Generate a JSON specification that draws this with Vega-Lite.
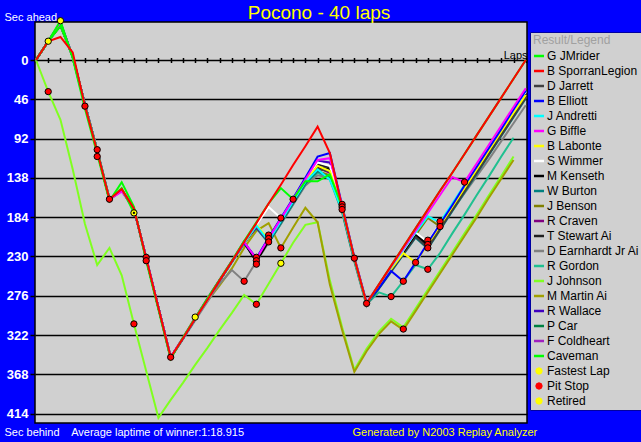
{
"$schema":"https://vega.github.io/schema/vega-lite/v6.json",
"width":492,"height":401,
"autosize":"none",
"padding":{"left":35,"top":22,"right":114,"bottom":19},
"background":"#0000ff",
"config":{"view":{"fill":"#d0d0d0","stroke":"#000000","strokeWidth":1.5},"font":"Liberation Sans"},
"title":{"text":"Pocono - 40 laps","color":"#ffff00","font":"Liberation Sans","fontSize":19,"fontWeight":"normal","anchor":"middle","frame":"group","dx":38,"offset":0,"baseline":"alphabetic","dy":27},
"datasets":{
"laps":[
{"n":"J Johnson","l":0,"v":0},{"n":"J Johnson","l":1,"v":37},{"n":"J Johnson","l":2,"v":70},{"n":"J Johnson","l":3,"v":128},{"n":"J Johnson","l":4,"v":192},{"n":"J Johnson","l":5,"v":240},{"n":"J Johnson","l":6,"v":220},{"n":"J Johnson","l":7,"v":252},{"n":"J Johnson","l":8,"v":309},{"n":"J Johnson","l":9,"v":364},{"n":"J Johnson","l":10,"v":419},{"n":"J Johnson","l":11,"v":398},{"n":"J Johnson","l":12,"v":378},{"n":"J Johnson","l":13,"v":357},{"n":"J Johnson","l":14,"v":337},{"n":"J Johnson","l":15,"v":316},{"n":"J Johnson","l":16,"v":296},{"n":"J Johnson","l":17,"v":275},{"n":"J Johnson","l":18,"v":286},{"n":"J Johnson","l":19,"v":262},{"n":"J Johnson","l":20,"v":238},{"n":"J Johnson","l":21,"v":214},{"n":"J Johnson","l":22,"v":193},{"n":"J Johnson","l":23,"v":190},{"n":"J Johnson","l":24,"v":258},{"n":"J Johnson","l":25,"v":313},{"n":"J Johnson","l":26,"v":363},{"n":"J Johnson","l":27,"v":338},{"n":"J Johnson","l":28,"v":318},{"n":"J Johnson","l":29,"v":303},{"n":"J Johnson","l":30,"v":313},{"n":"J Johnson","l":31,"v":291},{"n":"J Johnson","l":32,"v":269},{"n":"J Johnson","l":33,"v":247},{"n":"J Johnson","l":34,"v":225},{"n":"J Johnson","l":35,"v":203},{"n":"J Johnson","l":36,"v":181},{"n":"J Johnson","l":37,"v":158},{"n":"J Johnson","l":38,"v":136},{"n":"J Johnson","l":39,"v":113},
{"n":"M Martin Ai","l":0,"v":0},{"n":"M Martin Ai","l":1,"v":-22},{"n":"M Martin Ai","l":2,"v":-42},{"n":"M Martin Ai","l":3,"v":-4},{"n":"M Martin Ai","l":4,"v":52},{"n":"M Martin Ai","l":5,"v":106},{"n":"M Martin Ai","l":6,"v":163},{"n":"M Martin Ai","l":7,"v":152},{"n":"M Martin Ai","l":8,"v":174},{"n":"M Martin Ai","l":9,"v":232},{"n":"M Martin Ai","l":10,"v":290},{"n":"M Martin Ai","l":11,"v":348},{"n":"M Martin Ai","l":12,"v":326},{"n":"M Martin Ai","l":13,"v":301},{"n":"M Martin Ai","l":14,"v":282},{"n":"M Martin Ai","l":15,"v":264},{"n":"M Martin Ai","l":16,"v":244},{"n":"M Martin Ai","l":17,"v":220},{"n":"M Martin Ai","l":18,"v":200},{"n":"M Martin Ai","l":19,"v":191},{"n":"M Martin Ai","l":20,"v":220},{"n":"M Martin Ai","l":21,"v":196},{"n":"M Martin Ai","l":22,"v":173},{"n":"M Martin Ai","l":23,"v":190},{"n":"M Martin Ai","l":24,"v":263},{"n":"M Martin Ai","l":25,"v":316},{"n":"M Martin Ai","l":26,"v":365},{"n":"M Martin Ai","l":27,"v":341},{"n":"M Martin Ai","l":28,"v":321},{"n":"M Martin Ai","l":29,"v":306},{"n":"M Martin Ai","l":30,"v":316},{"n":"M Martin Ai","l":31,"v":294},{"n":"M Martin Ai","l":32,"v":272},{"n":"M Martin Ai","l":33,"v":250},{"n":"M Martin Ai","l":34,"v":228},{"n":"M Martin Ai","l":35,"v":206},{"n":"M Martin Ai","l":36,"v":184},{"n":"M Martin Ai","l":37,"v":161},{"n":"M Martin Ai","l":38,"v":139},{"n":"M Martin Ai","l":39,"v":117},
{"n":"R Gordon","l":0,"v":0},{"n":"R Gordon","l":1,"v":-22},{"n":"R Gordon","l":2,"v":-41},{"n":"R Gordon","l":3,"v":-4},{"n":"R Gordon","l":4,"v":52},{"n":"R Gordon","l":5,"v":106},{"n":"R Gordon","l":6,"v":163},{"n":"R Gordon","l":7,"v":152},{"n":"R Gordon","l":8,"v":174},{"n":"R Gordon","l":9,"v":232},{"n":"R Gordon","l":10,"v":290},{"n":"R Gordon","l":11,"v":348},{"n":"R Gordon","l":12,"v":326},{"n":"R Gordon","l":13,"v":303},{"n":"R Gordon","l":14,"v":281},{"n":"R Gordon","l":15,"v":259},{"n":"R Gordon","l":16,"v":237},{"n":"R Gordon","l":17,"v":215},{"n":"R Gordon","l":18,"v":196},{"n":"R Gordon","l":19,"v":214},{"n":"R Gordon","l":20,"v":192},{"n":"R Gordon","l":21,"v":169},{"n":"R Gordon","l":22,"v":146},{"n":"R Gordon","l":23,"v":132},{"n":"R Gordon","l":24,"v":140},{"n":"R Gordon","l":25,"v":178},{"n":"R Gordon","l":26,"v":236},{"n":"R Gordon","l":27,"v":286},{"n":"R Gordon","l":28,"v":272},{"n":"R Gordon","l":29,"v":277},{"n":"R Gordon","l":30,"v":259},{"n":"R Gordon","l":31,"v":240},{"n":"R Gordon","l":32,"v":245},{"n":"R Gordon","l":33,"v":226},{"n":"R Gordon","l":34,"v":203},{"n":"R Gordon","l":35,"v":181},{"n":"R Gordon","l":36,"v":158},{"n":"R Gordon","l":37,"v":136},{"n":"R Gordon","l":38,"v":113},{"n":"R Gordon","l":39,"v":91},
{"n":"D Earnhardt Jr Ai","l":0,"v":0},{"n":"D Earnhardt Jr Ai","l":1,"v":-22},{"n":"D Earnhardt Jr Ai","l":2,"v":-40},{"n":"D Earnhardt Jr Ai","l":3,"v":-3},{"n":"D Earnhardt Jr Ai","l":4,"v":53},{"n":"D Earnhardt Jr Ai","l":5,"v":107},{"n":"D Earnhardt Jr Ai","l":6,"v":164},{"n":"D Earnhardt Jr Ai","l":7,"v":153},{"n":"D Earnhardt Jr Ai","l":8,"v":175},{"n":"D Earnhardt Jr Ai","l":9,"v":233},{"n":"D Earnhardt Jr Ai","l":10,"v":291},{"n":"D Earnhardt Jr Ai","l":11,"v":349},{"n":"D Earnhardt Jr Ai","l":12,"v":327},{"n":"D Earnhardt Jr Ai","l":13,"v":305},{"n":"D Earnhardt Jr Ai","l":14,"v":283},{"n":"D Earnhardt Jr Ai","l":15,"v":262},{"n":"D Earnhardt Jr Ai","l":16,"v":246},{"n":"D Earnhardt Jr Ai","l":17,"v":259},{"n":"D Earnhardt Jr Ai","l":18,"v":236},{"n":"D Earnhardt Jr Ai","l":19,"v":214},{"n":"D Earnhardt Jr Ai","l":20,"v":192},{"n":"D Earnhardt Jr Ai","l":21,"v":169},{"n":"D Earnhardt Jr Ai","l":22,"v":147},{"n":"D Earnhardt Jr Ai","l":23,"v":135},{"n":"D Earnhardt Jr Ai","l":24,"v":138},{"n":"D Earnhardt Jr Ai","l":25,"v":178},{"n":"D Earnhardt Jr Ai","l":26,"v":236},{"n":"D Earnhardt Jr Ai","l":27,"v":288},{"n":"D Earnhardt Jr Ai","l":28,"v":266},{"n":"D Earnhardt Jr Ai","l":29,"v":246},{"n":"D Earnhardt Jr Ai","l":30,"v":226},{"n":"D Earnhardt Jr Ai","l":31,"v":206},{"n":"D Earnhardt Jr Ai","l":32,"v":218},{"n":"D Earnhardt Jr Ai","l":33,"v":197},{"n":"D Earnhardt Jr Ai","l":34,"v":176},{"n":"D Earnhardt Jr Ai","l":35,"v":156},{"n":"D Earnhardt Jr Ai","l":36,"v":136},{"n":"D Earnhardt Jr Ai","l":37,"v":116},{"n":"D Earnhardt Jr Ai","l":38,"v":95},{"n":"D Earnhardt Jr Ai","l":39,"v":74},{"n":"D Earnhardt Jr Ai","l":40,"v":53},
{"n":"F Coldheart","l":0,"v":0},{"n":"F Coldheart","l":1,"v":-22},{"n":"F Coldheart","l":2,"v":-42},{"n":"F Coldheart","l":3,"v":-4},{"n":"F Coldheart","l":4,"v":52},{"n":"F Coldheart","l":5,"v":106},{"n":"F Coldheart","l":6,"v":163},{"n":"F Coldheart","l":7,"v":152},{"n":"F Coldheart","l":8,"v":174},{"n":"F Coldheart","l":9,"v":232},{"n":"F Coldheart","l":10,"v":290},{"n":"F Coldheart","l":11,"v":348},
{"n":"P Car","l":0,"v":0},{"n":"P Car","l":1,"v":-22},{"n":"P Car","l":2,"v":-42},{"n":"P Car","l":3,"v":-4},{"n":"P Car","l":4,"v":52},{"n":"P Car","l":5,"v":106},{"n":"P Car","l":6,"v":163},{"n":"P Car","l":7,"v":152},{"n":"P Car","l":8,"v":174},{"n":"P Car","l":9,"v":232},{"n":"P Car","l":10,"v":290},{"n":"P Car","l":11,"v":348},{"n":"P Car","l":12,"v":326},{"n":"P Car","l":13,"v":303},{"n":"P Car","l":14,"v":280},{"n":"P Car","l":15,"v":258},{"n":"P Car","l":16,"v":236},{"n":"P Car","l":17,"v":214},{"n":"P Car","l":18,"v":234},
{"n":"R Wallace","l":0,"v":0},{"n":"R Wallace","l":1,"v":-22},{"n":"R Wallace","l":2,"v":-43},{"n":"R Wallace","l":3,"v":-4},{"n":"R Wallace","l":4,"v":52},{"n":"R Wallace","l":5,"v":106},{"n":"R Wallace","l":6,"v":163},{"n":"R Wallace","l":7,"v":152},{"n":"R Wallace","l":8,"v":174},{"n":"R Wallace","l":9,"v":232},{"n":"R Wallace","l":10,"v":290},{"n":"R Wallace","l":11,"v":348},{"n":"R Wallace","l":12,"v":326},{"n":"R Wallace","l":13,"v":303},{"n":"R Wallace","l":14,"v":280},{"n":"R Wallace","l":15,"v":258},{"n":"R Wallace","l":16,"v":236},{"n":"R Wallace","l":17,"v":214},{"n":"R Wallace","l":18,"v":233},{"n":"R Wallace","l":19,"v":209},{"n":"R Wallace","l":20,"v":186},{"n":"R Wallace","l":21,"v":163},{"n":"R Wallace","l":22,"v":140},{"n":"R Wallace","l":23,"v":118},{"n":"R Wallace","l":24,"v":120},{"n":"R Wallace","l":25,"v":172},{"n":"R Wallace","l":26,"v":232},
{"n":"J Benson","l":0,"v":0},{"n":"J Benson","l":1,"v":-22},{"n":"J Benson","l":2,"v":-41},{"n":"J Benson","l":3,"v":-4},{"n":"J Benson","l":4,"v":52},{"n":"J Benson","l":5,"v":106},{"n":"J Benson","l":6,"v":163},{"n":"J Benson","l":7,"v":152},{"n":"J Benson","l":8,"v":174},{"n":"J Benson","l":9,"v":232},{"n":"J Benson","l":10,"v":290},{"n":"J Benson","l":11,"v":348},{"n":"J Benson","l":12,"v":326},{"n":"J Benson","l":13,"v":303},{"n":"J Benson","l":14,"v":280},{"n":"J Benson","l":15,"v":258},{"n":"J Benson","l":16,"v":236},{"n":"J Benson","l":17,"v":214},{"n":"J Benson","l":18,"v":195},{"n":"J Benson","l":19,"v":213},{"n":"J Benson","l":20,"v":190},{"n":"J Benson","l":21,"v":167},{"n":"J Benson","l":22,"v":144},{"n":"J Benson","l":23,"v":130},{"n":"J Benson","l":24,"v":135},{"n":"J Benson","l":25,"v":177},{"n":"J Benson","l":26,"v":234},{"n":"J Benson","l":27,"v":286},{"n":"J Benson","l":28,"v":265},{"n":"J Benson","l":29,"v":245},{"n":"J Benson","l":30,"v":225},{"n":"J Benson","l":31,"v":205},{"n":"J Benson","l":32,"v":185},{"n":"J Benson","l":33,"v":195},{"n":"J Benson","l":34,"v":173},{"n":"J Benson","l":35,"v":151},{"n":"J Benson","l":36,"v":129},{"n":"J Benson","l":37,"v":107},{"n":"J Benson","l":38,"v":85},{"n":"J Benson","l":39,"v":63},{"n":"J Benson","l":40,"v":41},
{"n":"W Burton","l":0,"v":0},{"n":"W Burton","l":1,"v":-22},{"n":"W Burton","l":2,"v":-42},{"n":"W Burton","l":3,"v":-4},{"n":"W Burton","l":4,"v":52},{"n":"W Burton","l":5,"v":106},{"n":"W Burton","l":6,"v":163},{"n":"W Burton","l":7,"v":152},{"n":"W Burton","l":8,"v":174},{"n":"W Burton","l":9,"v":232},{"n":"W Burton","l":10,"v":290},{"n":"W Burton","l":11,"v":348},{"n":"W Burton","l":12,"v":326},{"n":"W Burton","l":13,"v":303},{"n":"W Burton","l":14,"v":280},{"n":"W Burton","l":15,"v":258},{"n":"W Burton","l":16,"v":236},{"n":"W Burton","l":17,"v":212},{"n":"W Burton","l":18,"v":197},{"n":"W Burton","l":19,"v":214},{"n":"W Burton","l":20,"v":191},{"n":"W Burton","l":21,"v":168},{"n":"W Burton","l":22,"v":145},{"n":"W Burton","l":23,"v":130},{"n":"W Burton","l":24,"v":138},{"n":"W Burton","l":25,"v":176},{"n":"W Burton","l":26,"v":234},{"n":"W Burton","l":27,"v":286},{"n":"W Burton","l":28,"v":268},{"n":"W Burton","l":29,"v":248},{"n":"W Burton","l":30,"v":228},{"n":"W Burton","l":31,"v":208},{"n":"W Burton","l":32,"v":221},{"n":"W Burton","l":33,"v":199},{"n":"W Burton","l":34,"v":177},{"n":"W Burton","l":35,"v":155},{"n":"W Burton","l":36,"v":133},{"n":"W Burton","l":37,"v":111},{"n":"W Burton","l":38,"v":89},{"n":"W Burton","l":39,"v":67},{"n":"W Burton","l":40,"v":45},
{"n":"R Craven","l":0,"v":0},{"n":"R Craven","l":1,"v":-22},{"n":"R Craven","l":2,"v":-43},{"n":"R Craven","l":3,"v":-4},{"n":"R Craven","l":4,"v":52},{"n":"R Craven","l":5,"v":106},{"n":"R Craven","l":6,"v":163},{"n":"R Craven","l":7,"v":152},{"n":"R Craven","l":8,"v":174},{"n":"R Craven","l":9,"v":232},{"n":"R Craven","l":10,"v":290},{"n":"R Craven","l":11,"v":348},{"n":"R Craven","l":12,"v":326},{"n":"R Craven","l":13,"v":303},{"n":"R Craven","l":14,"v":280},{"n":"R Craven","l":15,"v":258},{"n":"R Craven","l":16,"v":236},{"n":"R Craven","l":17,"v":214},{"n":"R Craven","l":18,"v":196},{"n":"R Craven","l":19,"v":212},{"n":"R Craven","l":20,"v":189},{"n":"R Craven","l":21,"v":166},{"n":"R Craven","l":22,"v":143},{"n":"R Craven","l":23,"v":126},{"n":"R Craven","l":24,"v":132},{"n":"R Craven","l":25,"v":175},{"n":"R Craven","l":26,"v":233},{"n":"R Craven","l":27,"v":285},{"n":"R Craven","l":28,"v":266},{"n":"R Craven","l":29,"v":246},{"n":"R Craven","l":30,"v":226},{"n":"R Craven","l":31,"v":206},{"n":"R Craven","l":32,"v":219},{"n":"R Craven","l":33,"v":197},{"n":"R Craven","l":34,"v":175},{"n":"R Craven","l":35,"v":153},{"n":"R Craven","l":36,"v":131},{"n":"R Craven","l":37,"v":109},{"n":"R Craven","l":38,"v":87},{"n":"R Craven","l":39,"v":65},{"n":"R Craven","l":40,"v":43},
{"n":"T Stewart Ai","l":0,"v":0},{"n":"T Stewart Ai","l":1,"v":-22},{"n":"T Stewart Ai","l":2,"v":-42},{"n":"T Stewart Ai","l":3,"v":-4},{"n":"T Stewart Ai","l":4,"v":52},{"n":"T Stewart Ai","l":5,"v":106},{"n":"T Stewart Ai","l":6,"v":163},{"n":"T Stewart Ai","l":7,"v":152},{"n":"T Stewart Ai","l":8,"v":174},{"n":"T Stewart Ai","l":9,"v":232},{"n":"T Stewart Ai","l":10,"v":290},{"n":"T Stewart Ai","l":11,"v":348},{"n":"T Stewart Ai","l":12,"v":326},{"n":"T Stewart Ai","l":13,"v":303},{"n":"T Stewart Ai","l":14,"v":280},{"n":"T Stewart Ai","l":15,"v":258},{"n":"T Stewart Ai","l":16,"v":236},{"n":"T Stewart Ai","l":17,"v":214},{"n":"T Stewart Ai","l":18,"v":234},{"n":"T Stewart Ai","l":19,"v":210},{"n":"T Stewart Ai","l":20,"v":187},{"n":"T Stewart Ai","l":21,"v":164},{"n":"T Stewart Ai","l":22,"v":141},{"n":"T Stewart Ai","l":23,"v":122},{"n":"T Stewart Ai","l":24,"v":126},{"n":"T Stewart Ai","l":25,"v":174},{"n":"T Stewart Ai","l":26,"v":232},{"n":"T Stewart Ai","l":27,"v":285},{"n":"T Stewart Ai","l":28,"v":266},{"n":"T Stewart Ai","l":29,"v":246},{"n":"T Stewart Ai","l":30,"v":226},{"n":"T Stewart Ai","l":31,"v":205},{"n":"T Stewart Ai","l":32,"v":218},{"n":"T Stewart Ai","l":33,"v":196},{"n":"T Stewart Ai","l":34,"v":174},{"n":"T Stewart Ai","l":35,"v":152},{"n":"T Stewart Ai","l":36,"v":130},{"n":"T Stewart Ai","l":37,"v":108},{"n":"T Stewart Ai","l":38,"v":86},{"n":"T Stewart Ai","l":39,"v":64},{"n":"T Stewart Ai","l":40,"v":42},
{"n":"D Jarrett","l":0,"v":0},{"n":"D Jarrett","l":1,"v":-22},{"n":"D Jarrett","l":2,"v":-40},{"n":"D Jarrett","l":3,"v":-4},{"n":"D Jarrett","l":4,"v":52},{"n":"D Jarrett","l":5,"v":106},{"n":"D Jarrett","l":6,"v":163},{"n":"D Jarrett","l":7,"v":152},{"n":"D Jarrett","l":8,"v":174},{"n":"D Jarrett","l":9,"v":232},{"n":"D Jarrett","l":10,"v":290},{"n":"D Jarrett","l":11,"v":348},{"n":"D Jarrett","l":12,"v":326},{"n":"D Jarrett","l":13,"v":303},{"n":"D Jarrett","l":14,"v":280},{"n":"D Jarrett","l":15,"v":258},{"n":"D Jarrett","l":16,"v":236},{"n":"D Jarrett","l":17,"v":214},{"n":"D Jarrett","l":18,"v":235},{"n":"D Jarrett","l":19,"v":211},{"n":"D Jarrett","l":20,"v":188},{"n":"D Jarrett","l":21,"v":165},{"n":"D Jarrett","l":22,"v":142},{"n":"D Jarrett","l":23,"v":128},{"n":"D Jarrett","l":24,"v":130},{"n":"D Jarrett","l":25,"v":174},{"n":"D Jarrett","l":26,"v":233},{"n":"D Jarrett","l":27,"v":285},{"n":"D Jarrett","l":28,"v":267},{"n":"D Jarrett","l":29,"v":247},{"n":"D Jarrett","l":30,"v":227},{"n":"D Jarrett","l":31,"v":207},{"n":"D Jarrett","l":32,"v":220},{"n":"D Jarrett","l":33,"v":198},{"n":"D Jarrett","l":34,"v":176},{"n":"D Jarrett","l":35,"v":154},{"n":"D Jarrett","l":36,"v":132},{"n":"D Jarrett","l":37,"v":110},{"n":"D Jarrett","l":38,"v":88},{"n":"D Jarrett","l":39,"v":66},{"n":"D Jarrett","l":40,"v":44},
{"n":"M Kenseth","l":0,"v":0},{"n":"M Kenseth","l":1,"v":-22},{"n":"M Kenseth","l":2,"v":-42},{"n":"M Kenseth","l":3,"v":-4},{"n":"M Kenseth","l":4,"v":52},{"n":"M Kenseth","l":5,"v":106},{"n":"M Kenseth","l":6,"v":163},{"n":"M Kenseth","l":7,"v":152},{"n":"M Kenseth","l":8,"v":174},{"n":"M Kenseth","l":9,"v":232},{"n":"M Kenseth","l":10,"v":290},{"n":"M Kenseth","l":11,"v":348},{"n":"M Kenseth","l":12,"v":326},{"n":"M Kenseth","l":13,"v":303},{"n":"M Kenseth","l":14,"v":280},{"n":"M Kenseth","l":15,"v":258},{"n":"M Kenseth","l":16,"v":236},{"n":"M Kenseth","l":17,"v":214},{"n":"M Kenseth","l":18,"v":236},{"n":"M Kenseth","l":19,"v":212},{"n":"M Kenseth","l":20,"v":189},{"n":"M Kenseth","l":21,"v":166},{"n":"M Kenseth","l":22,"v":143},{"n":"M Kenseth","l":23,"v":125},{"n":"M Kenseth","l":24,"v":128},{"n":"M Kenseth","l":25,"v":175},{"n":"M Kenseth","l":26,"v":233},{"n":"M Kenseth","l":27,"v":285},{"n":"M Kenseth","l":28,"v":265},{"n":"M Kenseth","l":29,"v":245},{"n":"M Kenseth","l":30,"v":225},{"n":"M Kenseth","l":31,"v":204},{"n":"M Kenseth","l":32,"v":216},{"n":"M Kenseth","l":33,"v":194},{"n":"M Kenseth","l":34,"v":172},{"n":"M Kenseth","l":35,"v":150},{"n":"M Kenseth","l":36,"v":128},{"n":"M Kenseth","l":37,"v":106},{"n":"M Kenseth","l":38,"v":84},{"n":"M Kenseth","l":39,"v":62},{"n":"M Kenseth","l":40,"v":40},
{"n":"S Wimmer","l":0,"v":0},{"n":"S Wimmer","l":1,"v":-22},{"n":"S Wimmer","l":2,"v":-42},{"n":"S Wimmer","l":3,"v":-4},{"n":"S Wimmer","l":4,"v":52},{"n":"S Wimmer","l":5,"v":106},{"n":"S Wimmer","l":6,"v":163},{"n":"S Wimmer","l":7,"v":152},{"n":"S Wimmer","l":8,"v":174},{"n":"S Wimmer","l":9,"v":232},{"n":"S Wimmer","l":10,"v":290},{"n":"S Wimmer","l":11,"v":348},{"n":"S Wimmer","l":12,"v":326},{"n":"S Wimmer","l":13,"v":303},{"n":"S Wimmer","l":14,"v":281},{"n":"S Wimmer","l":15,"v":258},{"n":"S Wimmer","l":16,"v":236},{"n":"S Wimmer","l":17,"v":214},{"n":"S Wimmer","l":18,"v":193},{"n":"S Wimmer","l":19,"v":172},{"n":"S Wimmer","l":20,"v":185},{"n":"S Wimmer","l":21,"v":163},{"n":"S Wimmer","l":22,"v":140},{"n":"S Wimmer","l":23,"v":120},{"n":"S Wimmer","l":24,"v":124},{"n":"S Wimmer","l":25,"v":172},{"n":"S Wimmer","l":26,"v":232},{"n":"S Wimmer","l":27,"v":285},{"n":"S Wimmer","l":28,"v":264},{"n":"S Wimmer","l":29,"v":244},{"n":"S Wimmer","l":30,"v":223},{"n":"S Wimmer","l":31,"v":202},{"n":"S Wimmer","l":32,"v":213},{"n":"S Wimmer","l":33,"v":191},{"n":"S Wimmer","l":34,"v":169},{"n":"S Wimmer","l":35,"v":147},{"n":"S Wimmer","l":36,"v":125},{"n":"S Wimmer","l":37,"v":103},{"n":"S Wimmer","l":38,"v":81},{"n":"S Wimmer","l":39,"v":59},{"n":"S Wimmer","l":40,"v":37},
{"n":"B Labonte","l":0,"v":0},{"n":"B Labonte","l":1,"v":-22},{"n":"B Labonte","l":2,"v":-42},{"n":"B Labonte","l":3,"v":-4},{"n":"B Labonte","l":4,"v":52},{"n":"B Labonte","l":5,"v":106},{"n":"B Labonte","l":6,"v":163},{"n":"B Labonte","l":7,"v":152},{"n":"B Labonte","l":8,"v":174},{"n":"B Labonte","l":9,"v":232},{"n":"B Labonte","l":10,"v":290},{"n":"B Labonte","l":11,"v":348},{"n":"B Labonte","l":12,"v":326},{"n":"B Labonte","l":13,"v":303},{"n":"B Labonte","l":14,"v":280},{"n":"B Labonte","l":15,"v":258},{"n":"B Labonte","l":16,"v":236},{"n":"B Labonte","l":17,"v":214},{"n":"B Labonte","l":18,"v":193},{"n":"B Labonte","l":19,"v":210},{"n":"B Labonte","l":20,"v":187},{"n":"B Labonte","l":21,"v":164},{"n":"B Labonte","l":22,"v":141},{"n":"B Labonte","l":23,"v":124},{"n":"B Labonte","l":24,"v":130},{"n":"B Labonte","l":25,"v":173},{"n":"B Labonte","l":26,"v":232},{"n":"B Labonte","l":27,"v":285},{"n":"B Labonte","l":28,"v":265},{"n":"B Labonte","l":29,"v":245},{"n":"B Labonte","l":30,"v":226},{"n":"B Labonte","l":31,"v":237},{"n":"B Labonte","l":32,"v":216},{"n":"B Labonte","l":33,"v":194},{"n":"B Labonte","l":34,"v":172},{"n":"B Labonte","l":35,"v":150},{"n":"B Labonte","l":36,"v":128},{"n":"B Labonte","l":37,"v":106},{"n":"B Labonte","l":38,"v":84},{"n":"B Labonte","l":39,"v":62},{"n":"B Labonte","l":40,"v":41},
{"n":"J Andretti","l":0,"v":0},{"n":"J Andretti","l":1,"v":-22},{"n":"J Andretti","l":2,"v":-42},{"n":"J Andretti","l":3,"v":-4},{"n":"J Andretti","l":4,"v":52},{"n":"J Andretti","l":5,"v":106},{"n":"J Andretti","l":6,"v":163},{"n":"J Andretti","l":7,"v":152},{"n":"J Andretti","l":8,"v":174},{"n":"J Andretti","l":9,"v":232},{"n":"J Andretti","l":10,"v":290},{"n":"J Andretti","l":11,"v":348},{"n":"J Andretti","l":12,"v":326},{"n":"J Andretti","l":13,"v":303},{"n":"J Andretti","l":14,"v":280},{"n":"J Andretti","l":15,"v":258},{"n":"J Andretti","l":16,"v":236},{"n":"J Andretti","l":17,"v":214},{"n":"J Andretti","l":18,"v":194},{"n":"J Andretti","l":19,"v":212},{"n":"J Andretti","l":20,"v":189},{"n":"J Andretti","l":21,"v":166},{"n":"J Andretti","l":22,"v":143},{"n":"J Andretti","l":23,"v":128},{"n":"J Andretti","l":24,"v":140},{"n":"J Andretti","l":25,"v":176},{"n":"J Andretti","l":26,"v":234},{"n":"J Andretti","l":27,"v":286},{"n":"J Andretti","l":28,"v":264},{"n":"J Andretti","l":29,"v":243},{"n":"J Andretti","l":30,"v":222},{"n":"J Andretti","l":31,"v":202},{"n":"J Andretti","l":32,"v":183},{"n":"J Andretti","l":33,"v":190},{"n":"J Andretti","l":34,"v":168},{"n":"J Andretti","l":35,"v":146},{"n":"J Andretti","l":36,"v":124},{"n":"J Andretti","l":37,"v":102},{"n":"J Andretti","l":38,"v":80},{"n":"J Andretti","l":39,"v":58},{"n":"J Andretti","l":40,"v":36},
{"n":"B Elliott","l":0,"v":0},{"n":"B Elliott","l":1,"v":-22},{"n":"B Elliott","l":2,"v":-44},{"n":"B Elliott","l":3,"v":-4},{"n":"B Elliott","l":4,"v":52},{"n":"B Elliott","l":5,"v":106},{"n":"B Elliott","l":6,"v":163},{"n":"B Elliott","l":7,"v":152},{"n":"B Elliott","l":8,"v":174},{"n":"B Elliott","l":9,"v":232},{"n":"B Elliott","l":10,"v":290},{"n":"B Elliott","l":11,"v":348},{"n":"B Elliott","l":12,"v":326},{"n":"B Elliott","l":13,"v":303},{"n":"B Elliott","l":14,"v":280},{"n":"B Elliott","l":15,"v":258},{"n":"B Elliott","l":16,"v":236},{"n":"B Elliott","l":17,"v":214},{"n":"B Elliott","l":18,"v":232},{"n":"B Elliott","l":19,"v":208},{"n":"B Elliott","l":20,"v":185},{"n":"B Elliott","l":21,"v":162},{"n":"B Elliott","l":22,"v":138},{"n":"B Elliott","l":23,"v":113},{"n":"B Elliott","l":24,"v":109},{"n":"B Elliott","l":25,"v":170},{"n":"B Elliott","l":26,"v":231},{"n":"B Elliott","l":27,"v":284},{"n":"B Elliott","l":28,"v":267},{"n":"B Elliott","l":29,"v":247},{"n":"B Elliott","l":30,"v":259},{"n":"B Elliott","l":31,"v":237},{"n":"B Elliott","l":32,"v":214},{"n":"B Elliott","l":33,"v":192},{"n":"B Elliott","l":34,"v":170},{"n":"B Elliott","l":35,"v":147},{"n":"B Elliott","l":36,"v":125},{"n":"B Elliott","l":37,"v":103},{"n":"B Elliott","l":38,"v":81},{"n":"B Elliott","l":39,"v":58},{"n":"B Elliott","l":40,"v":36},
{"n":"G Biffle","l":0,"v":0},{"n":"G Biffle","l":1,"v":-22},{"n":"G Biffle","l":2,"v":-43},{"n":"G Biffle","l":3,"v":-4},{"n":"G Biffle","l":4,"v":52},{"n":"G Biffle","l":5,"v":106},{"n":"G Biffle","l":6,"v":163},{"n":"G Biffle","l":7,"v":154},{"n":"G Biffle","l":8,"v":174},{"n":"G Biffle","l":9,"v":232},{"n":"G Biffle","l":10,"v":290},{"n":"G Biffle","l":11,"v":348},{"n":"G Biffle","l":12,"v":325},{"n":"G Biffle","l":13,"v":302},{"n":"G Biffle","l":14,"v":279},{"n":"G Biffle","l":15,"v":257},{"n":"G Biffle","l":16,"v":235},{"n":"G Biffle","l":17,"v":213},{"n":"G Biffle","l":18,"v":233},{"n":"G Biffle","l":19,"v":209},{"n":"G Biffle","l":20,"v":186},{"n":"G Biffle","l":21,"v":163},{"n":"G Biffle","l":22,"v":140},{"n":"G Biffle","l":23,"v":117},{"n":"G Biffle","l":24,"v":115},{"n":"G Biffle","l":25,"v":171},{"n":"G Biffle","l":26,"v":231},{"n":"G Biffle","l":27,"v":284},{"n":"G Biffle","l":28,"v":263},{"n":"G Biffle","l":29,"v":242},{"n":"G Biffle","l":30,"v":221},{"n":"G Biffle","l":31,"v":200},{"n":"G Biffle","l":32,"v":179},{"n":"G Biffle","l":33,"v":158},{"n":"G Biffle","l":34,"v":137},{"n":"G Biffle","l":35,"v":143},{"n":"G Biffle","l":36,"v":121},{"n":"G Biffle","l":37,"v":99},{"n":"G Biffle","l":38,"v":77},{"n":"G Biffle","l":39,"v":55},{"n":"G Biffle","l":40,"v":33},
{"n":"\u00a0\u00a0\u00a0Caveman","l":0,"v":0},{"n":"\u00a0\u00a0\u00a0Caveman","l":1,"v":-22},{"n":"\u00a0\u00a0\u00a0Caveman","l":2,"v":-40},{"n":"\u00a0\u00a0\u00a0Caveman","l":3,"v":-5},{"n":"\u00a0\u00a0\u00a0Caveman","l":4,"v":53},{"n":"\u00a0\u00a0\u00a0Caveman","l":5,"v":106},{"n":"\u00a0\u00a0\u00a0Caveman","l":6,"v":163},{"n":"\u00a0\u00a0\u00a0Caveman","l":7,"v":150},{"n":"\u00a0\u00a0\u00a0Caveman","l":8,"v":179},
{"n":"G JMrider","l":0,"v":0},{"n":"G JMrider","l":1,"v":-22},{"n":"G JMrider","l":2,"v":-46},{"n":"G JMrider","l":3,"v":-2},{"n":"G JMrider","l":4,"v":57},{"n":"G JMrider","l":5,"v":110},{"n":"G JMrider","l":6,"v":165},{"n":"G JMrider","l":7,"v":143},{"n":"G JMrider","l":8,"v":172},{"n":"G JMrider","l":9,"v":235},{"n":"G JMrider","l":10,"v":292},{"n":"G JMrider","l":11,"v":350},{"n":"G JMrider","l":12,"v":325},{"n":"G JMrider","l":13,"v":302},{"n":"G JMrider","l":14,"v":279},{"n":"G JMrider","l":15,"v":257},{"n":"G JMrider","l":16,"v":235},{"n":"G JMrider","l":17,"v":212},{"n":"G JMrider","l":18,"v":190},{"n":"G JMrider","l":19,"v":168},{"n":"G JMrider","l":20,"v":150},{"n":"G JMrider","l":21,"v":163},{"n":"G JMrider","l":22,"v":142},{"n":"G JMrider","l":23,"v":142},{"n":"G JMrider","l":24,"v":134},{"n":"G JMrider","l":25,"v":172},{"n":"G JMrider","l":26,"v":232},{"n":"G JMrider","l":27,"v":285},{"n":"G JMrider","l":28,"v":263},{"n":"G JMrider","l":29,"v":241},{"n":"G JMrider","l":30,"v":219},{"n":"G JMrider","l":31,"v":197},{"n":"G JMrider","l":32,"v":175},{"n":"G JMrider","l":33,"v":153},{"n":"G JMrider","l":34,"v":132},{"n":"G JMrider","l":35,"v":110},{"n":"G JMrider","l":36,"v":88},{"n":"G JMrider","l":37,"v":66},{"n":"G JMrider","l":38,"v":44},{"n":"G JMrider","l":39,"v":22},{"n":"G JMrider","l":40,"v":0},
{"n":"B SporranLegion","l":0,"v":0},{"n":"B SporranLegion","l":1,"v":-22},{"n":"B SporranLegion","l":2,"v":-27},{"n":"B SporranLegion","l":3,"v":-9},{"n":"B SporranLegion","l":4,"v":54},{"n":"B SporranLegion","l":5,"v":107},{"n":"B SporranLegion","l":6,"v":163},{"n":"B SporranLegion","l":7,"v":151},{"n":"B SporranLegion","l":8,"v":174},{"n":"B SporranLegion","l":9,"v":232},{"n":"B SporranLegion","l":10,"v":290},{"n":"B SporranLegion","l":11,"v":348},{"n":"B SporranLegion","l":12,"v":326},{"n":"B SporranLegion","l":13,"v":303},{"n":"B SporranLegion","l":14,"v":281},{"n":"B SporranLegion","l":15,"v":258},{"n":"B SporranLegion","l":16,"v":236},{"n":"B SporranLegion","l":17,"v":213},{"n":"B SporranLegion","l":18,"v":191},{"n":"B SporranLegion","l":19,"v":168},{"n":"B SporranLegion","l":20,"v":146},{"n":"B SporranLegion","l":21,"v":123},{"n":"B SporranLegion","l":22,"v":101},{"n":"B SporranLegion","l":23,"v":78},{"n":"B SporranLegion","l":24,"v":109},{"n":"B SporranLegion","l":25,"v":172},{"n":"B SporranLegion","l":26,"v":232},{"n":"B SporranLegion","l":27,"v":285},{"n":"B SporranLegion","l":28,"v":263},{"n":"B SporranLegion","l":29,"v":241},{"n":"B SporranLegion","l":30,"v":219},{"n":"B SporranLegion","l":31,"v":197},{"n":"B SporranLegion","l":32,"v":175},{"n":"B SporranLegion","l":33,"v":153},{"n":"B SporranLegion","l":34,"v":132},{"n":"B SporranLegion","l":35,"v":110},{"n":"B SporranLegion","l":36,"v":88},{"n":"B SporranLegion","l":37,"v":66},{"n":"B SporranLegion","l":38,"v":44},{"n":"B SporranLegion","l":39,"v":22},{"n":"B SporranLegion","l":40,"v":0}
],
"events":[
{"n":"Fastest Lap","l":1,"v":-22},{"n":"Fastest Lap","l":2,"v":-46},{"n":"Fastest Lap","l":13,"v":301},{"n":"Fastest Lap","l":20,"v":238},
{"n":"Retired","l":8,"v":179},
{"n":"Pit Stop","l":1,"v":37},{"n":"Pit Stop","l":4,"v":54},{"n":"Pit Stop","l":5,"v":105},{"n":"Pit Stop","l":5,"v":113},{"n":"Pit Stop","l":6,"v":163},{"n":"Pit Stop","l":8,"v":309},{"n":"Pit Stop","l":9,"v":231},{"n":"Pit Stop","l":9,"v":235},{"n":"Pit Stop","l":11,"v":348},{"n":"Pit Stop","l":17,"v":259},{"n":"Pit Stop","l":18,"v":231},{"n":"Pit Stop","l":18,"v":235},{"n":"Pit Stop","l":18,"v":239},{"n":"Pit Stop","l":18,"v":286},{"n":"Pit Stop","l":19,"v":205},{"n":"Pit Stop","l":19,"v":209},{"n":"Pit Stop","l":19,"v":213},{"n":"Pit Stop","l":20,"v":185},{"n":"Pit Stop","l":20,"v":220},{"n":"Pit Stop","l":21,"v":163},{"n":"Pit Stop","l":25,"v":169},{"n":"Pit Stop","l":25,"v":172},{"n":"Pit Stop","l":25,"v":175},{"n":"Pit Stop","l":26,"v":232},{"n":"Pit Stop","l":27,"v":285},{"n":"Pit Stop","l":29,"v":277},{"n":"Pit Stop","l":30,"v":259},{"n":"Pit Stop","l":30,"v":315},{"n":"Pit Stop","l":31,"v":237},{"n":"Pit Stop","l":32,"v":211},{"n":"Pit Stop","l":32,"v":216},{"n":"Pit Stop","l":32,"v":220},{"n":"Pit Stop","l":32,"v":245},{"n":"Pit Stop","l":33,"v":189},{"n":"Pit Stop","l":33,"v":195},{"n":"Pit Stop","l":35,"v":143}
]
},
"layer":[
{
"data":{"name":"laps"},
"mark":{"type":"line","strokeWidth":2,"clip":true},
"encoding":{
"x":{"field":"l","type":"quantitative","scale":{"domain":[-0.08,40.1],"nice":false,"zero":false},
"axis":{"orient":"top","offset":-40.5,"values":[0,1,2,3,4,5,6,7,8,9,10,11,12,13,14,15,16,17,18,19,20,21,22,23,24,25,26,27,28,29,30,31,32,33,34,35,36,37,38,39,40],"labels":false,"domain":false,"grid":false,"ticks":true,"tickColor":"#000000","tickSize":5,"tickWidth":1.5,"title":"Laps","titleColor":"#000000","titleFont":"Liberation Sans","titleFontSize":11,"titleFontWeight":"normal","titleX":492,"titleY":-4.5,"titleAlign":"right","titleBaseline":"alphabetic"}},
"y":{"field":"v","type":"quantitative","scale":{"domain":[-44.5,425],"reverse":true,"nice":false,"zero":false},
"axis":{"orient":"left","values":[0,46,92,138,184,230,276,322,368,414],"grid":true,"gridColor":"#000000","gridOpacity":1,"gridWidth":1.5,"domain":false,"tickColor":"#000000","tickSize":5,"tickWidth":1.5,"labelColor":"#ffffff","labelFont":"Liberation Sans","labelFontSize":13,"labelFontWeight":"bold","labelPadding":2,"title":"Sec ahead","titleColor":"#ffffff","titleFont":"Liberation Sans","titleFontSize":11,"titleFontWeight":"normal","titleAngle":0,"titleX":-31,"titleY":-2,"titleAlign":"left","titleBaseline":"alphabetic"}},
"color":{"field":"n","type":"nominal",
"scale":{"domain":["G JMrider","B SporranLegion","D Jarrett","B Elliott","J Andretti","G Biffle","B Labonte","S Wimmer","M Kenseth","W Burton","J Benson","R Craven","T Stewart Ai","D Earnhardt Jr Ai","R Gordon","J Johnson","M Martin Ai","R Wallace","P Car","F Coldheart","\u00a0\u00a0\u00a0Caveman","Fastest Lap","Pit Stop","Retired"],
"range":["#00ff00","#ff0000","#404040","#0000ff","#00ffff","#ff00ff","#ffff00","#ffffff","#000000","#008080","#808000","#800080","#202020","#808080","#20c090","#80ff20","#a0a000","#4000c0","#008040","#a020c0","#00ff00","#ffff00","#ff0000","#ffff00"]},
"legend":{"orient":"none","legendX":495,"legendY":10,"title":"Result/Legend","titleColor":"#a0a0a0","titleFont":"Liberation Sans","titleFontSize":12,"titleFontWeight":"normal","titlePadding":3,"labelColor":"#000000","labelFont":"Liberation Sans","labelFontSize":12,"labelOffset":2,"labelLimit":200,"fillColor":"#d0d0d0","strokeColor":"#0000a0","padding":3,"rowPadding":3,"symbolType":"stroke","symbolSize":100,"symbolStrokeWidth":2.5,
"encode":{"symbols":{"update":{
"shape":{"signal":"indexof(['Fastest Lap','Pit Stop','Retired'], datum.value) >= 0 ? 'circle' : 'stroke'"},
"fill":{"signal":"indexof(['Fastest Lap','Pit Stop','Retired'], datum.value) >= 0 ? scale('color', datum.value) : 'transparent'"},
"stroke":{"signal":"indexof(['Fastest Lap','Pit Stop','Retired'], datum.value) >= 0 ? '#000000' : scale('color', datum.value)"},
"size":{"signal":"indexof(['Fastest Lap','Pit Stop','Retired'], datum.value) >= 0 ? 40 : 100"},
"strokeWidth":{"signal":"indexof(['Fastest Lap','Pit Stop','Retired'], datum.value) >= 0 ? 1 : 2.5"},
"opacity":{"value":1}
}}}}}
}
},
{
"data":{"name":"events"},
"mark":{"type":"point","filled":true,"size":40,"stroke":"#000000","strokeWidth":1,"opacity":1},
"encoding":{
"x":{"field":"l","type":"quantitative","axis":{"orient":"bottom","labels":false,"ticks":false,"domain":false,"grid":false,"title":"Sec behind\u00a0\u00a0\u00a0 Average laptime of winner:1:18.915","titleColor":"#ffffff","titleFont":"Liberation Sans","titleFontSize":11,"titleFontWeight":"normal","titleX":-31,"titleY":12.5,"titleAlign":"left","titleBaseline":"alphabetic"}},
"y":{"field":"v","type":"quantitative","axis":{"orient":"right","labels":false,"ticks":false,"domain":false,"grid":false,"title":"Generated by N2003 Replay Analyzer","titleColor":"#ffff00","titleFont":"Liberation Sans","titleFontSize":11,"titleFontWeight":"normal","titleAngle":0,"titleX":-175,"titleY":413.5,"titleAlign":"left","titleBaseline":"alphabetic"}},
"color":{"field":"n","type":"nominal"}
}
},
{
"data":{"name":"events"},
"transform":[{"filter":"datum.n == 'Retired'"}],
"mark":{"type":"point","filled":true,"size":5,"color":"#000000","opacity":1},
"encoding":{
"x":{"field":"l","type":"quantitative","axis":null},
"y":{"field":"v","type":"quantitative","axis":null}
}
}
],
"resolve":{"axis":{"x":"independent","y":"independent"}}
}
